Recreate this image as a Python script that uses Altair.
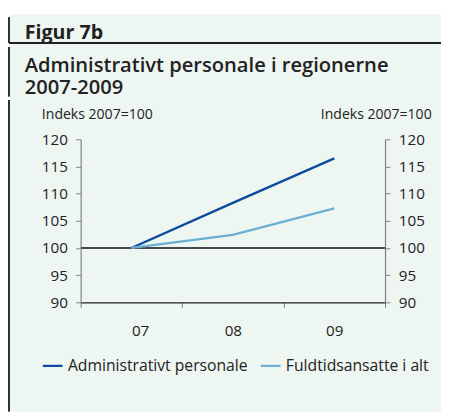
import altair as alt
import pandas as pd

years = [7, 8, 9]
year_labels = ["07", "08", "09"]
admin = [100.0, 108.3, 116.5]
fuldtid = [100.0, 102.4, 107.3]
series_names = ["Administrativt personale", "Fuldtidsansatte i alt"]
colors = ["#0B4A9E", "#6CAFD3"]

rows = []
for name, vals in zip(series_names, [admin, fuldtid]):
    for y, v in zip(years, vals):
        rows.append({"year": y, "value": v, "series": name})
df = pd.DataFrame(rows)

W, H = 310, 166
PL, PT = 74, 130
TOTAL_W, TOTAL_H = 441, 407
FONT = "Open Sans"
BG = "#EEF6F2"
INK = "#222222"

xscale = alt.Scale(domain=[6.5, 9.5], nice=False, zero=False)
yscale = alt.Scale(domain=[90, 120], nice=False, zero=False)

xaxis = alt.Axis(orient="bottom", values=[6.5, 7.5, 8.5, 9.5],
                 labelExpr="datum.value > 9 ? '' : '0' + (datum.value + 0.5)",
                 labelOffset=W / 6, labelPadding=17, tickSize=5, grid=False,
                 domainColor=INK, tickColor="#777777", labelFontSize=15.5,
                 labelColor=INK, labelFont=FONT, title=None, domainWidth=1.2,
                 zindex=1)

def yaxis(orient, tx, align):
    return alt.Axis(orient=orient, values=[90, 95, 100, 105, 110, 115, 120],
                    tickSize=5, labelPadding=8.5, grid=False, domainColor="#808080",
                    tickColor="#808080", labelFontSize=15.5, labelColor=INK,
                    labelFont=FONT, title="Indeks 2007=100", titleAngle=0,
                    titleX=tx, titleY=-25, titleAlign=align, titleBaseline="middle",
                    titleFont=FONT, titleFontSize=14.3, titleFontWeight="normal",
                    titleColor=INK, domainWidth=1.2, zindex=1)

base = alt.Chart(df)

bg = base.mark_rect(color=BG).encode(
    x=alt.value(-72), x2=alt.value(TOTAL_W - PL), y=alt.value(-127), y2=alt.value(TOTAL_H - PT))

def vline(y1, y2):
    return base.mark_rule(color="#333333", strokeWidth=1.3).encode(
        x=alt.value(-73), y=alt.value(y1), y2=alt.value(y2))

borders = [vline(-124, -98), vline(-94, -44), vline(-40, TOTAL_H - PT)]
hline = base.mark_rule(color=INK, strokeWidth=1.5).encode(
    x=alt.value(-73), x2=alt.value(TOTAL_W - PL), y=alt.value(-98))

def text(t, x, y, size, weight):
    return alt.Chart(pd.DataFrame({"t": [t]})).mark_text(
        align="left", baseline="alphabetic", font=FONT, fontSize=size,
        fontWeight=weight, color=INK, lineBreak="\n", lineHeight=22.5).encode(
        text="t:N", x=alt.value(x), y=alt.value(y))

t1 = text("Figur 7b", -57, -102, 20, "bold")
t2 = text("Administrativt personale i regionerne\n2007-2009", -57, -69, 20.5, 600)

left_axis = base.mark_line(opacity=0).encode(
    x=alt.X("year:Q", scale=xscale, axis=xaxis),
    y=alt.Y("value:Q", scale=yscale, axis=yaxis("left", -40, "left")))
right_axis = base.mark_line(opacity=0).encode(
    x=alt.X("year:Q", scale=xscale, axis=None),
    y=alt.Y("value:Q", scale=yscale, axis=yaxis("right", 47, "right")))

ref = alt.Chart(pd.DataFrame({"v": [100]})).mark_rule(color="#111111", strokeWidth=1.3).encode(
    y=alt.Y("v:Q", scale=yscale, axis=None))

lines = base.mark_line(strokeWidth=2.3).encode(
    x=alt.X("year:Q", scale=xscale, axis=None),
    y=alt.Y("value:Q", scale=yscale, axis=None),
    color=alt.Color("series:N", scale=alt.Scale(domain=series_names, range=colors),
                    legend=alt.Legend(orient="none", legendX=-40, legendY=219,
                                      direction="horizontal", title=None,
                                      symbolType="stroke", symbolSize=400,
                                      symbolStrokeWidth=2.3, labelFont=FONT,
                                      labelFontSize=16, labelColor=INK,
                                      labelOffset=4, columnPadding=7,
                                      labelLimit=0)))

chart = alt.layer(bg, *borders, hline, t1, t2, ref, left_axis, right_axis, lines).resolve_axis(
    x="independent", y="independent").properties(
    width=W, height=H,
    autosize=alt.AutoSizeParams(type="none"),
    padding={"left": PL, "top": PT, "right": TOTAL_W - PL - W, "bottom": TOTAL_H - PT - H},
    background="white",
).configure_view(stroke=None)

chart.save("out.html", embed_options={"renderer": "svg", "actions": False})
